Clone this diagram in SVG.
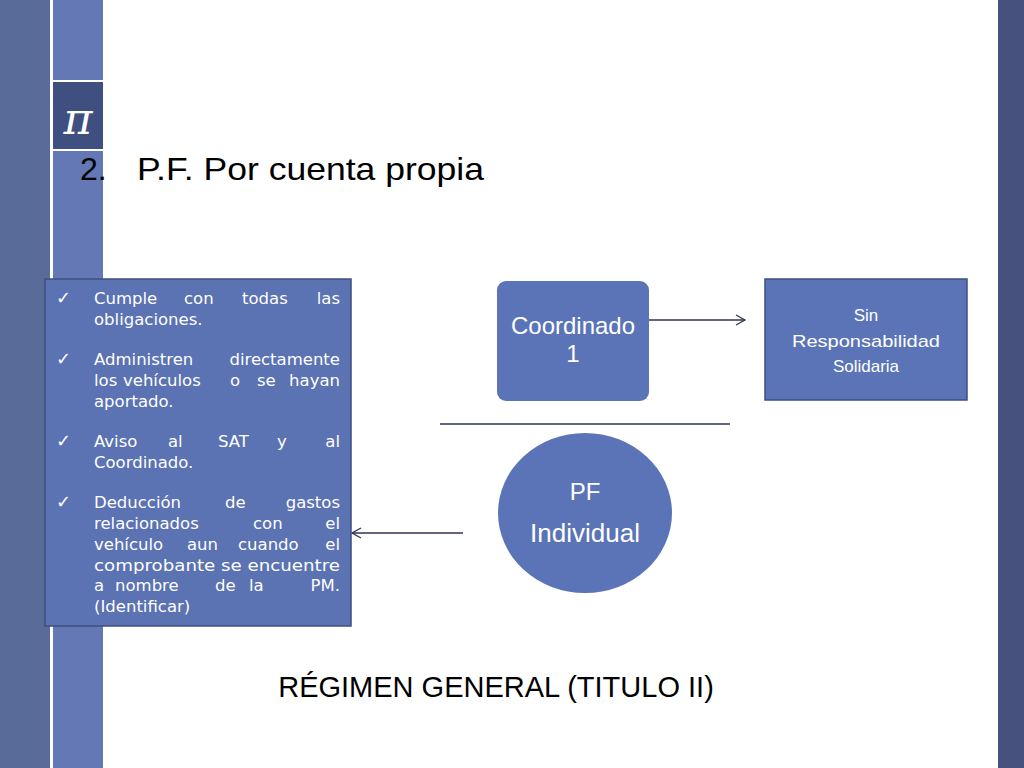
<svg xmlns="http://www.w3.org/2000/svg" width="1024" height="768" viewBox="0 0 1024 768">
<defs>
<style>
.t{font-family:"Liberation Sans",Arial,sans-serif;fill:#fff}
.b{font-family:"DejaVu Sans",Verdana,sans-serif;font-size:16.5px;fill:#fff}
.e{text-anchor:end}
.c{stroke:#2b3553;stroke-width:1.3;fill:none}
</style>
<marker id="a" markerWidth="12" markerHeight="12" refX="10" refY="6" orient="auto" markerUnits="userSpaceOnUse"><path d="M1,1 L10,6 L1,11" fill="none" stroke="#2b3553" stroke-width="1.3"/></marker>
</defs>
<rect width="1024" height="768" fill="#fff"/>
<rect x="0" y="0" width="50" height="768" fill="#596b99"/>
<rect x="53" y="0" width="50" height="768" fill="#6378b5"/>
<rect x="53" y="82" width="50" height="67" fill="#3f4f80"/>
<rect x="53" y="80" width="50" height="2" fill="#fff"/>
<rect x="53" y="149" width="50" height="2" fill="#fff"/>
<text x="78" y="134" text-anchor="middle" font-family="'DejaVu Serif',serif" font-style="italic" font-size="44" fill="#fff">π</text>
<rect x="998" y="0" width="26" height="768" fill="#46517d"/>
<text x="80" y="180" font-family="'Liberation Sans',Arial,sans-serif" font-size="32" fill="#000">2.</text>
<text x="137" y="180" font-family="'Liberation Sans',Arial,sans-serif" font-size="32" fill="#000" textLength="347" lengthAdjust="spacingAndGlyphs">P.F. Por cuenta propia</text>
<g id="connectors">
<line class="c" x1="641" y1="320" x2="745" y2="320" marker-end="url(#a)"/>
<line class="c" x1="463" y1="533" x2="352" y2="533" marker-end="url(#a)"/>
<line class="c" x1="440" y1="424" x2="730" y2="424"/>
</g>
<g id="list">
<rect x="45" y="279" width="306" height="347" fill="#5b72b3" stroke="#3f4f80" stroke-width="1.5"/>
<g class="b">
<text x="56" y="304" font-size="18">✓</text><text x="56" y="365" font-size="18">✓</text><text x="56" y="447" font-size="18">✓</text><text x="56" y="508" font-size="18">✓</text>
<text x="94" y="304">Cumple</text><text x="184" y="304">con</text><text x="242" y="304">todas</text><text class="e" x="340" y="304">las</text>
<text x="94" y="325">obligaciones.</text>
<text x="94" y="365">Administren</text><text class="e" x="340" y="365">directamente</text>
<text x="94" y="386">los</text><text x="123" y="386">vehículos</text><text x="230" y="386">o</text><text x="257" y="386">se</text><text class="e" x="340" y="386">hayan</text>
<text x="94" y="407">aportado.</text>
<text x="94" y="447">Aviso</text><text x="168" y="447">al</text><text x="218" y="447">SAT</text><text x="277" y="447">y</text><text class="e" x="340" y="447">al</text>
<text x="94" y="468">Coordinado.</text>
<text x="94" y="508">Deducción</text><text x="225" y="508">de</text><text class="e" x="340" y="508">gastos</text>
<text x="94" y="529">relacionados</text><text x="253" y="529">con</text><text class="e" x="340" y="529">el</text>
<text x="94" y="550">vehículo</text><text x="187" y="550">aun</text><text x="238" y="550">cuando</text><text class="e" x="340" y="550">el</text>
<text x="94" y="571" textLength="246" lengthAdjust="spacingAndGlyphs">comprobante se encuentre</text>
<text x="94" y="591">a</text><text x="115" y="591">nombre</text><text x="215" y="591">de</text><text x="249" y="591">la</text><text class="e" x="340" y="591">PM.</text>
<text x="94" y="612">(Identificar)</text>
</g>
</g>
<g id="coordinado">
<rect x="497" y="281" width="152" height="120" rx="9" fill="#5b74b7"/>
<text class="t" x="573" y="334" text-anchor="middle" font-size="24">Coordinado</text>
<text class="t" x="573" y="362" text-anchor="middle" font-size="24">1</text>
</g>
<g id="sin">
<rect x="765" y="279" width="202" height="121" fill="#5b74b7" stroke="#3f4f80" stroke-width="1.5"/>
<g class="t" font-size="17" text-anchor="middle">
<text x="866" y="321">Sin</text>
<text x="866" y="347" textLength="148" lengthAdjust="spacingAndGlyphs">Responsabilidad</text>
<text x="866" y="372">Solidaria</text>
</g>
</g>
<g id="pf">
<ellipse cx="585" cy="513" rx="87" ry="80" fill="#5b74b7"/>
<text class="t" x="585" y="500" text-anchor="middle" font-size="24">PF</text>
<text class="t" x="585" y="542" text-anchor="middle" font-size="26">Individual</text>
</g>
<text x="496" y="697" text-anchor="middle" font-family="'Liberation Sans',Arial,sans-serif" font-size="29" fill="#000">RÉGIMEN GENERAL (TITULO II)</text>
</svg>
